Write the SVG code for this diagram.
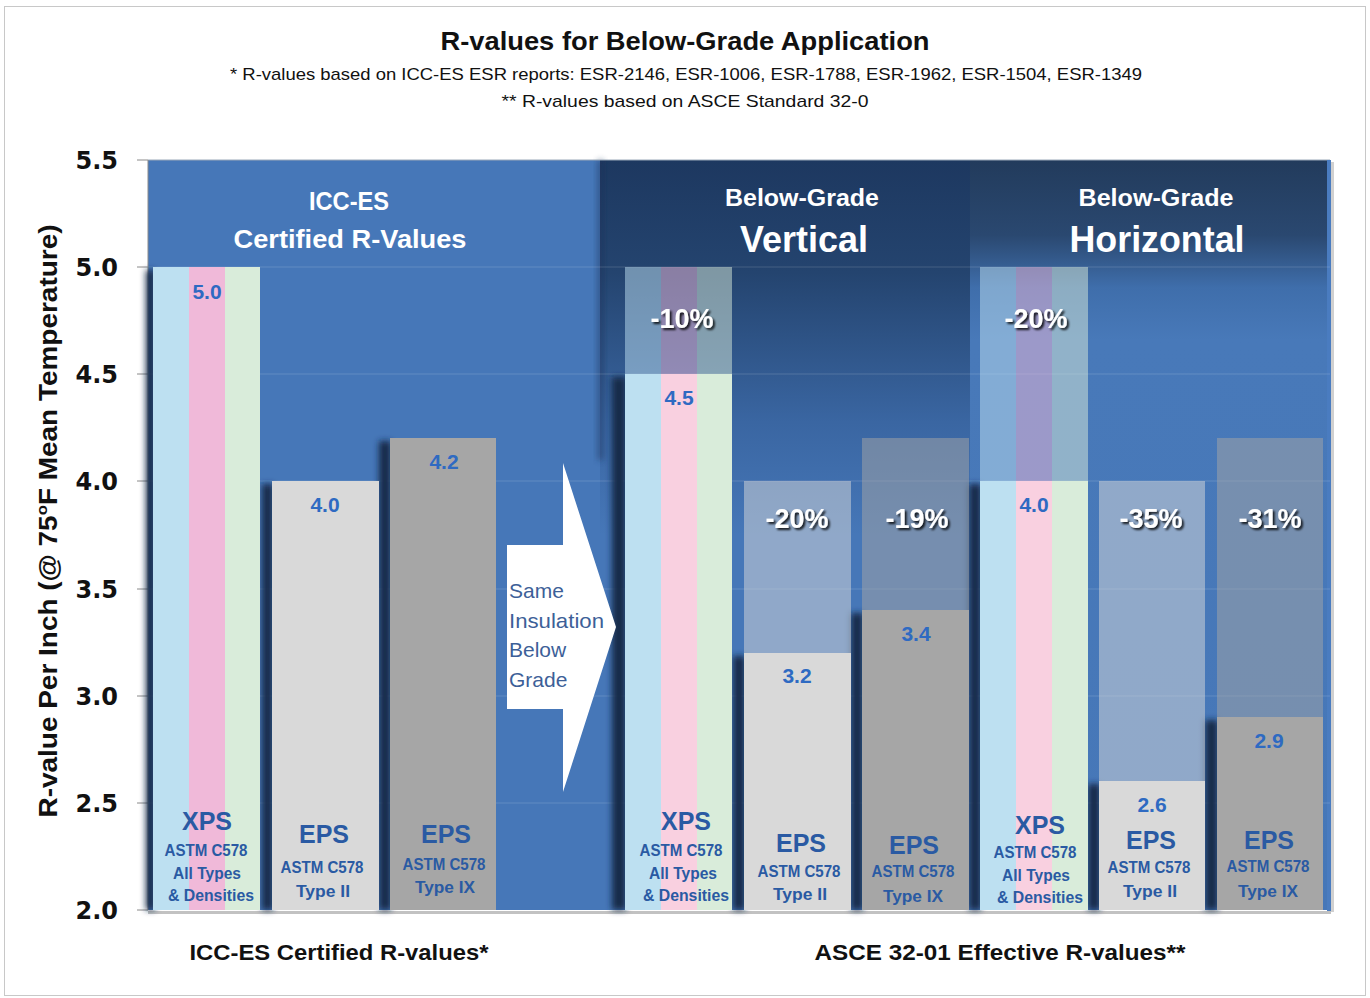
<svg xmlns="http://www.w3.org/2000/svg" width="1370" height="998" viewBox="0 0 1370 998">
<style>
.t{font-family:"Liberation Sans",Arial,sans-serif;font-weight:bold}
.ax{font-family:"DejaVu Sans",Verdana,sans-serif;font-weight:bold;font-size:24px;fill:#111;text-anchor:end}
.hd{fill:#fff;text-anchor:middle}
.lbl{fill:#2a5aa3;text-anchor:middle}
.val{fill:#2e6ac2;text-anchor:middle;font-size:21px}
.pct{fill:#fff;text-anchor:middle;font-size:27px}
.arr{font-family:"Liberation Sans",Arial,sans-serif;font-size:21px;fill:#3d5f98}
.grid{stroke:#fff;stroke-opacity:0.15;stroke-width:1}
.tick{stroke:#8a8a8a;stroke-width:1}
.sb{fill:#bde0f1}.sp{fill:#f0b9d9}.sp2{fill:#f9d0e0}.sg{fill:#d9ecda}
.e2{fill:#d9d9d9}.e9{fill:#a6a6a6}
.f{opacity:0.5}
.shd{fill:#142a48}
</style>
<defs>
<linearGradient id="gv" x1="0" y1="160" x2="0" y2="910" gradientUnits="userSpaceOnUse">
<stop offset="0" stop-color="#1d3860"/>
<stop offset="0.15" stop-color="#24446f"/>
<stop offset="0.35" stop-color="#3a66a2"/>
<stop offset="0.5" stop-color="#4677b8"/>
<stop offset="1" stop-color="#4677b8"/>
</linearGradient>
<linearGradient id="gh" x1="0" y1="160" x2="0" y2="910" gradientUnits="userSpaceOnUse">
<stop offset="0" stop-color="#223b5c"/>
<stop offset="0.1" stop-color="#2a4870"/>
<stop offset="0.17" stop-color="#3f6eab"/>
<stop offset="0.24" stop-color="#4879b9"/>
<stop offset="1" stop-color="#4677b8"/>
</linearGradient>
<filter id="blur" x="-100%" y="-10%" width="300%" height="120%"><feGaussianBlur stdDeviation="3"/></filter>
<filter id="ts" x="-20%" y="-20%" width="150%" height="160%"><feDropShadow dx="2" dy="2" stdDeviation="1" flood-color="#000" flood-opacity="0.85"/></filter>
</defs>

<rect x="0" y="0" width="1370" height="998" fill="#fff"/>
<rect x="4.5" y="6.5" width="1361" height="989" fill="none" stroke="#c8c8c8" stroke-width="1"/>

<g id="title">
<text class="t" x="685" y="50" font-size="26" text-anchor="middle" textLength="489" lengthAdjust="spacingAndGlyphs" fill="#111">R-values for Below-Grade Application</text>
<text x="686" y="80" font-family="Liberation Sans,Arial,sans-serif" font-size="17" text-anchor="middle" textLength="912" lengthAdjust="spacingAndGlyphs" fill="#111">* R-values based on ICC-ES ESR reports: ESR-2146, ESR-1006, ESR-1788, ESR-1962, ESR-1504, ESR-1349</text>
<text x="685" y="107" font-family="Liberation Sans,Arial,sans-serif" font-size="17" text-anchor="middle" textLength="367" lengthAdjust="spacingAndGlyphs" fill="#111">** R-values based on ASCE Standard 32-0</text>
</g>

<g id="plot-bg">
<rect x="148" y="160" width="452" height="750" fill="#4677b8"/>
<rect x="600" y="160" width="370" height="750" fill="url(#gv)"/>
<rect x="970" y="160" width="360" height="750" fill="url(#gh)"/>
<rect x="598" y="160" width="5" height="300" fill="#1a3256" opacity="0.6" filter="url(#blur)"/>
<line x1="148" y1="160" x2="1330" y2="160" stroke="#9aa8b8" stroke-width="1"/>
<rect x="1327" y="160" width="4" height="751" fill="#4a7cc0"/>
<rect x="1331" y="162" width="3" height="750" fill="#b0b0b0" opacity="0.6"/>
<rect x="148" y="911" width="1183" height="3" fill="#9a9a9a" opacity="0.6"/>
</g>

<g id="grid">
<line class="grid" x1="148" y1="267" x2="1330" y2="267"/>
<line class="grid" x1="148" y1="374" x2="1330" y2="374"/>
<line class="grid" x1="148" y1="481" x2="1330" y2="481"/>
<line class="grid" x1="148" y1="589" x2="1330" y2="589"/>
<line class="grid" x1="148" y1="696" x2="1330" y2="696"/>
<line class="grid" x1="148" y1="803" x2="1330" y2="803"/>
</g>

<g id="y-axis">
<line x1="148" y1="160" x2="148" y2="910" stroke="#8a8a8a" stroke-width="1"/>
<line class="tick" x1="137" y1="160" x2="148" y2="160"/>
<line class="tick" x1="137" y1="267" x2="148" y2="267"/>
<line class="tick" x1="137" y1="374" x2="148" y2="374"/>
<line class="tick" x1="137" y1="481" x2="148" y2="481"/>
<line class="tick" x1="137" y1="589" x2="148" y2="589"/>
<line class="tick" x1="137" y1="696" x2="148" y2="696"/>
<line class="tick" x1="137" y1="803" x2="148" y2="803"/>
<line class="tick" x1="137" y1="910" x2="148" y2="910"/>
<text class="ax" x="118" y="169">5.5</text>
<text class="ax" x="118" y="276">5.0</text>
<text class="ax" x="118" y="383">4.5</text>
<text class="ax" x="118" y="490">4.0</text>
<text class="ax" x="118" y="598">3.5</text>
<text class="ax" x="118" y="705">3.0</text>
<text class="ax" x="118" y="812">2.5</text>
<text class="ax" x="118" y="919">2.0</text>
<text class="t" transform="translate(57,521) rotate(-90)" font-size="25" text-anchor="middle" textLength="593" lengthAdjust="spacingAndGlyphs" fill="#111">R-value Per Inch (@ 75<tspan font-size="15" dy="-10">o</tspan><tspan dy="10">F Mean Temperature)</tspan></text>
</g>

<g id="section-headers">
<text class="t hd" x="349" y="210" font-size="26" textLength="80" lengthAdjust="spacingAndGlyphs">ICC-ES</text>
<text class="t hd" x="350" y="248" font-size="26" textLength="233" lengthAdjust="spacingAndGlyphs">Certified R-Values</text>
<text class="t hd" x="802" y="206" font-size="24" textLength="154" lengthAdjust="spacingAndGlyphs">Below-Grade</text>
<text class="t hd" x="804" y="252" font-size="36" textLength="128" lengthAdjust="spacingAndGlyphs">Vertical</text>
<text class="t hd" x="1156" y="206" font-size="24" textLength="155" lengthAdjust="spacingAndGlyphs">Below-Grade</text>
<text class="t hd" x="1157" y="252" font-size="36" textLength="175" lengthAdjust="spacingAndGlyphs">Horizontal</text>
</g>

<g id="shadows">
<rect class="shd" x="146" y="270" width="9" height="640" filter="url(#blur)"/>
<rect class="shd" x="262" y="484" width="11" height="426" filter="url(#blur)"/>
<rect class="shd" x="379" y="441" width="12" height="469" filter="url(#blur)"/>
<rect class="shd" x="612" y="377" width="14" height="533" filter="url(#blur)"/>
<rect class="shd" x="733" y="656" width="12" height="254" filter="url(#blur)"/>
<rect class="shd" x="851" y="613" width="12" height="297" filter="url(#blur)"/>
<rect class="shd" x="969" y="484" width="12" height="426" filter="url(#blur)"/>
<rect class="shd" x="1088" y="784" width="12" height="126" filter="url(#blur)"/>
<rect class="shd" x="1205" y="720" width="13" height="190" filter="url(#blur)"/>
</g>

<g id="icc-xps">
<rect class="sb" x="153" y="267" width="36" height="643"/>
<rect class="sp" x="189" y="267" width="36" height="643"/>
<rect class="sg" x="225" y="267" width="35" height="643"/>
<text class="t val" x="207" y="299">5.0</text>
<text class="t lbl" x="207" y="830" font-size="25">XPS</text>
<text class="t lbl" x="206" y="856" font-size="16" textLength="83" lengthAdjust="spacingAndGlyphs">ASTM C578</text>
<text class="t lbl" x="207" y="879" font-size="16" textLength="68" lengthAdjust="spacingAndGlyphs">All Types</text>
<text class="t lbl" x="211" y="901" font-size="16" textLength="86" lengthAdjust="spacingAndGlyphs">&amp; Densities</text>
</g>

<g id="icc-eps2">
<rect class="e2" x="272" y="481" width="107" height="429"/>
<text class="t val" x="325" y="512">4.0</text>
<text class="t lbl" x="324" y="843" font-size="25">EPS</text>
<text class="t lbl" x="322" y="873" font-size="16" textLength="83" lengthAdjust="spacingAndGlyphs">ASTM C578</text>
<text class="t lbl" x="323" y="897" font-size="16" textLength="54" lengthAdjust="spacingAndGlyphs">Type II</text>
</g>

<g id="icc-eps9">
<rect class="e9" x="390" y="438" width="106" height="472"/>
<text class="t val" x="444" y="469">4.2</text>
<text class="t lbl" x="446" y="843" font-size="25">EPS</text>
<text class="t lbl" x="444" y="870" font-size="16" textLength="83" lengthAdjust="spacingAndGlyphs">ASTM C578</text>
<text class="t lbl" x="445" y="893" font-size="16" textLength="60" lengthAdjust="spacingAndGlyphs">Type IX</text>
</g>

<g id="arrow">
<polygon points="507,545 563,545 563,463 616,627 563,792 563,709 507,709" fill="#fff"/>
<text class="arr" x="509" y="598">Same</text>
<text class="arr" x="509" y="628" textLength="95" lengthAdjust="spacingAndGlyphs">Insulation</text>
<text class="arr" x="509" y="657">Below</text>
<text class="arr" x="509" y="687">Grade</text>
</g>

<g id="vert-xps">
<rect class="sb f" x="625" y="267" width="36" height="107"/>
<rect class="sp f" x="661" y="267" width="36" height="107"/>
<rect class="sg f" x="697" y="267" width="35" height="107"/>
<rect class="sb" x="625" y="374" width="36" height="536"/>
<rect class="sp2" x="661" y="374" width="36" height="536"/>
<rect class="sg" x="697" y="374" width="35" height="536"/>
<text class="t pct" x="682" y="328" filter="url(#ts)">-10%</text>
<text class="t val" x="679" y="405">4.5</text>
<text class="t lbl" x="686" y="830" font-size="25">XPS</text>
<text class="t lbl" x="681" y="856" font-size="16" textLength="83" lengthAdjust="spacingAndGlyphs">ASTM C578</text>
<text class="t lbl" x="683" y="879" font-size="16" textLength="68" lengthAdjust="spacingAndGlyphs">All Types</text>
<text class="t lbl" x="686" y="901" font-size="16" textLength="86" lengthAdjust="spacingAndGlyphs">&amp; Densities</text>
</g>

<g id="vert-eps2">
<rect class="e2 f" x="744" y="481" width="107" height="172"/>
<rect class="e2" x="744" y="653" width="107" height="257"/>
<text class="t pct" x="797" y="528" filter="url(#ts)">-20%</text>
<text class="t val" x="797" y="683">3.2</text>
<text class="t lbl" x="801" y="852" font-size="25">EPS</text>
<text class="t lbl" x="799" y="877" font-size="16" textLength="83" lengthAdjust="spacingAndGlyphs">ASTM C578</text>
<text class="t lbl" x="800" y="900" font-size="16" textLength="54" lengthAdjust="spacingAndGlyphs">Type II</text>
</g>

<g id="vert-eps9">
<rect class="e9 f" x="862" y="438" width="107" height="172"/>
<rect class="e9" x="862" y="610" width="107" height="300"/>
<text class="t pct" x="917" y="528" filter="url(#ts)">-19%</text>
<text class="t val" x="916" y="641">3.4</text>
<text class="t lbl" x="914" y="854" font-size="25">EPS</text>
<text class="t lbl" x="913" y="877" font-size="16" textLength="83" lengthAdjust="spacingAndGlyphs">ASTM C578</text>
<text class="t lbl" x="913" y="902" font-size="16" textLength="60" lengthAdjust="spacingAndGlyphs">Type IX</text>
</g>

<g id="horiz-xps">
<rect class="sb f" x="980" y="267" width="36" height="214"/>
<rect class="sp f" x="1016" y="267" width="36" height="214"/>
<rect class="sg f" x="1052" y="267" width="36" height="214"/>
<rect class="sb" x="980" y="481" width="36" height="429"/>
<rect class="sp2" x="1016" y="481" width="36" height="429"/>
<rect class="sg" x="1052" y="481" width="36" height="429"/>
<text class="t pct" x="1036" y="328" filter="url(#ts)">-20%</text>
<text class="t val" x="1034" y="512">4.0</text>
<text class="t lbl" x="1040" y="834" font-size="25">XPS</text>
<text class="t lbl" x="1035" y="858" font-size="16" textLength="83" lengthAdjust="spacingAndGlyphs">ASTM C578</text>
<text class="t lbl" x="1036" y="881" font-size="16" textLength="68" lengthAdjust="spacingAndGlyphs">All Types</text>
<text class="t lbl" x="1040" y="903" font-size="16" textLength="86" lengthAdjust="spacingAndGlyphs">&amp; Densities</text>
</g>

<g id="horiz-eps2">
<rect class="e2 f" x="1099" y="481" width="106" height="300"/>
<rect class="e2" x="1099" y="781" width="106" height="129"/>
<text class="t pct" x="1151" y="528" filter="url(#ts)">-35%</text>
<text class="t val" x="1152" y="812">2.6</text>
<text class="t lbl" x="1151" y="849" font-size="25">EPS</text>
<text class="t lbl" x="1149" y="873" font-size="16" textLength="83" lengthAdjust="spacingAndGlyphs">ASTM C578</text>
<text class="t lbl" x="1150" y="897" font-size="16" textLength="54" lengthAdjust="spacingAndGlyphs">Type II</text>
</g>

<g id="horiz-eps9">
<rect class="e9 f" x="1217" y="438" width="106" height="279"/>
<rect class="e9" x="1217" y="717" width="106" height="193"/>
<text class="t pct" x="1270" y="528" filter="url(#ts)">-31%</text>
<text class="t val" x="1269" y="748">2.9</text>
<text class="t lbl" x="1269" y="849" font-size="25">EPS</text>
<text class="t lbl" x="1268" y="872" font-size="16" textLength="83" lengthAdjust="spacingAndGlyphs">ASTM C578</text>
<text class="t lbl" x="1268" y="897" font-size="16" textLength="60" lengthAdjust="spacingAndGlyphs">Type IX</text>
</g>

<g id="footer">
<text class="t" x="339" y="960" font-size="22" text-anchor="middle" textLength="299" lengthAdjust="spacingAndGlyphs" fill="#111">ICC-ES Certified R-values*</text>
<text class="t" x="1000" y="960" font-size="22" text-anchor="middle" textLength="371" lengthAdjust="spacingAndGlyphs" fill="#111">ASCE 32-01 Effective R-values**</text>
</g>
</svg>
